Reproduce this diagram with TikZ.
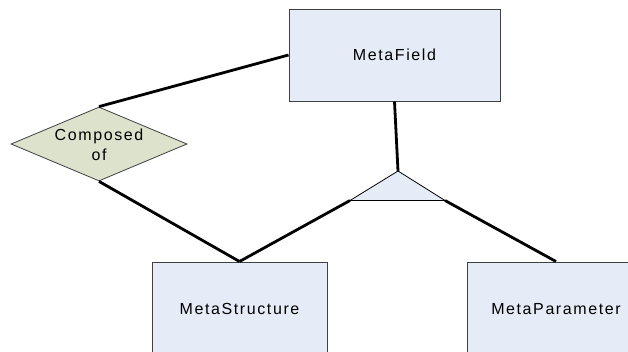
\documentclass[tikz,border=0pt]{standalone}
\usepackage{fontspec}
\setmainfont{Liberation Sans}[LetterSpace=10]
\usetikzlibrary{shapes.geometric}
\definecolor{entityfill}{RGB}{230,236,247}
\definecolor{relfill}{RGB}{221,226,204}
\definecolor{edgegray}{RGB}{64,64,64}
\tikzset{
  entity/.style={draw=edgegray, line width=1pt, fill=entityfill, rectangle,
    inner sep=0pt, font=\fontsize{16}{19}\selectfont},
  relation/.style={draw=edgegray, line width=0.8pt, fill=relfill, diamond,
    inner sep=0pt, minimum width=176pt, minimum height=74pt},
  reltext/.style={font=\fontsize{16}{20}\selectfont, align=center, inner sep=0pt},
  isa/.style={draw=black, line width=0.8pt, fill=entityfill},
  link/.style={draw=black, line width=2.8pt}
}
\begin{document}
\begin{tikzpicture}[x=1pt, y=-1pt]
  \clip (0,0) rectangle (628,351);
  \fill[white] (0,0) rectangle (628,351);

  % entities
  \node[entity, minimum width=211pt, minimum height=92pt] (field) at (394.5,55) {MetaField};
  \node[entity, minimum width=175pt, minimum height=94pt] (struct) at (239.5,309) {MetaStructure};
  \node[entity, minimum width=178pt, minimum height=94pt] (param) at (556,309) {MetaParameter};

  % composition relationship
  \node[relation] (comp) at (99,144) {};
  \node[reltext] (comptext) at (99,145) {Composed\\of};

  % specialisation triangle
  \coordinate (apex) at (398,171);
  \coordinate (baseL) at (350,200.5);
  \coordinate (baseR) at (445,200.5);
  \path[isa] (apex) -- (baseR) -- (baseL) -- cycle;

  % connectors
  \draw[link] (field.west) -- (comp.north);
  \draw[link] (comp.south) -- (struct.north);
  \draw[link] (field.south) -- (apex);
  \draw[link] (baseL) -- (struct.north);
  \draw[link] (baseR) -- (param.north);
\end{tikzpicture}
\end{document}
